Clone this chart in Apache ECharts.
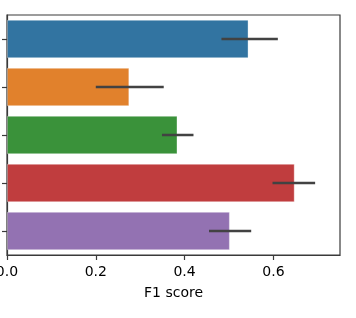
<!DOCTYPE html>
<html><head><meta charset="utf-8">
<script src="https://cdn.jsdelivr.net/npm/echarts@6/dist/echarts.min.js"></script>
<style>html,body{margin:0;padding:0;background:#fff}#c{width:356px;height:318px}</style>
</head><body><div id="c"></div>
<script>
const categories = ['A', 'B', 'C', 'D', 'E'];
const f1Values = [0.544, 0.2755, 0.384, 0.648, 0.502];
const errLow = [0.483, 0.200, 0.349, 0.598, 0.455];
const errHigh = [0.610, 0.353, 0.420, 0.694, 0.550];
const barColors = ['#3274a1', '#e1812c', '#3a923a', '#c03d3e', '#9372b2'];
const xTicks = [0, 0.2, 0.4, 0.6];

const chart = echarts.init(document.getElementById('c'), null, {renderer: 'canvas'});
const font = 'DejaVu Sans';
chart.setOption({
  animation: false,
  grid: {left: 7, right: 16, top: 15, bottom: 63, containLabel: false, outerBoundsMode: 'none', show: true, borderColor: '#3a3a3a', borderWidth: 1.2, backgroundColor: 'transparent'},
  xAxis: {
    type: 'value', min: 0, max: 0.75, interval: 0.2,
    splitLine: {show: false},
    axisLine: {show: true, lineStyle: {color: '#3a3a3a', width: 1.2}},
    axisTick: {show: true, length: 5, lineStyle: {color: '#3a3a3a', width: 1.2}, customValues: xTicks},
    axisLabel: {customValues: xTicks, color: '#000', fontFamily: font, fontSize: 14, margin: 10, formatter: v => v.toFixed(1)},
    name: 'F1 score', nameLocation: 'middle', nameGap: 31,
    nameTextStyle: {color: '#000', fontFamily: font, fontSize: 14}
  },
  yAxis: {
    type: 'category', data: categories, inverse: true,
    axisLine: {show: true, lineStyle: {color: '#3a3a3a', width: 1.2}},
    axisTick: {show: true, length: 5, alignWithLabel: true, lineStyle: {color: '#3a3a3a', width: 1.2}},
    axisLabel: {show: false},
    splitLine: {show: false}
  },
  series: [
    {
      type: 'bar', barCategoryGap: '20%',
      data: f1Values.map((v, i) => ({value: v, itemStyle: {color: barColors[i], borderColor: 'rgba(255,255,255,0.35)', borderWidth: 1}})),
      z: 2
    },
    {
      type: 'custom', z: 5,
      data: categories.map((c, i) => [errLow[i], errHigh[i], i]),
      renderItem: function (params, api) {
        const a = api.coord([api.value(0), api.value(2)]);
        const b = api.coord([api.value(1), api.value(2)]);
        return {type: 'line', shape: {x1: a[0], y1: a[1], x2: b[0], y2: b[1]}, style: {stroke: '#424242', lineWidth: 2.6}};
      }
    }
  ]
});
</script></body></html>
